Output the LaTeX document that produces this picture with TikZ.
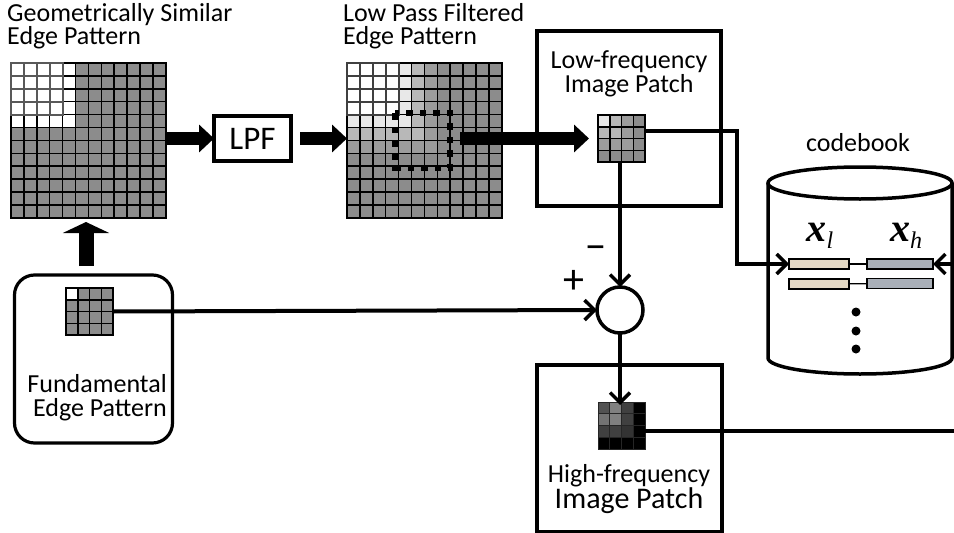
\documentclass[tikz,border=0pt]{standalone}
\usepackage{fontspec}
\setmainfont{Carlito}
\newfontfamily\codefont{Liberation Serif}
\usepackage{tikz}
\usetikzlibrary{arrows.meta}

\definecolor{lowbar}{HTML}{E4D8C4}
\definecolor{highbar}{HTML}{A9AFB8}

\tikzset{
    gridcell/.style={draw=black, line width=1.5pt},
    blockbox/.style={draw, line width=3.2pt, outer sep=0pt},
    label/.style={font=\fontsize{26}{24.5}\selectfont, align=center, inner sep=0pt},
    conn/.style={line width=4pt, -{Straight Barb[length=10pt,width=20pt,line width=3.5pt]}},
    wire/.style={line width=4pt},
    fatarrow/.style={line width=13pt, -{Triangle[length=15pt,width=27pt]}},
    codebar/.style={draw, line width=1.2pt, minimum height=10pt, inner sep=0pt, outer sep=0pt},
    codevar/.style={inner sep=0pt, font=\codefont\itshape\fontsize{24}{24}\selectfont},
}

% x, y of the corner, cells per side, cell size, gray levels
\newcommand{\edgegrid}[5]{
    \pgfmathtruncatemacro{\last}{#3-1}
    \foreach \r in {0,...,\last} {
        \foreach \c in {0,...,\last} {
            \pgfmathtruncatemacro{\lev}{{#5}[max(\r,\c)]}
            \draw[gridcell, fill=black!\lev] ({#1+\c*#4},{#2+\r*#4}) rectangle ++(#4,#4);
        }
    }
}
\newcommand{\whitecorner}[2]{
    \foreach \r in {0,...,3} {
        \foreach \c in {0,...,3} {
            \draw[draw=#2, line width=1.8pt] ({#1+\c*12.9},{63+\r*12.9}) rectangle ++(12.9,12.9);
        }
    }
}
\newcommand{\codevar}[1]{{\bfseries\fontsize{40}{40}\selectfont x}\raisebox{-7pt}{#1}}

\begin{document}
\begin{tikzpicture}[x=1pt,y=-1pt]
\useasboundingbox (0,0) rectangle (954,533);

% big grids
\edgegrid{11}{63}{12}{12.9}{0,0,0,0,0,45,45,45,45,45,45,45}
\whitecorner{11}{black!65}
\edgegrid{347}{63}{12}{12.9}{0,0,0,0,9,28,39,45,45,45,45,45}
\whitecorner{347}{black!75}
\node[minimum width=155pt, minimum height=155pt, inner sep=0pt, outer sep=0pt] (simgrid) at (88.5,140) {};
\node[minimum width=155pt, minimum height=155pt, inner sep=0pt, outer sep=0pt] (lowgrid) at (424.5,140) {};

\node[label, anchor=west, align=left, font=\fontsize{26}{23}\selectfont] (simtext) at (7,26) {Geometrically Similar\\Edge Pattern};
\node[label, anchor=west, align=left, font=\fontsize{26}{23}\selectfont] (lowtext) at (343,26) {Low Pass Filtered\\Edge Pattern};

\node[blockbox, minimum width=77pt, minimum height=45pt, font=\fontsize{33}{33}\selectfont] (lpf) at (252.5,138.5) {LPF};

% boxes
\node[blockbox, minimum width=184pt, minimum height=175pt] (lowbox) at (629,118.5) {};
\node[blockbox, minimum width=185pt, minimum height=167pt] (highbox) at (629.5,448.5) {};
\node[blockbox, rounded corners=20pt, minimum width=158pt, minimum height=168pt] (fundbox) at (93.5,359) {};

\node[label] (lowlabel) at (629,74) {Low-frequency\\Image Patch};
\node[label] (highlabel) at (629,489) {High-frequency\\{\fontsize{30}{24.5}\selectfont Image Patch}};
\node[label, anchor=east, align=right] (fundlabel) at (167,397.5) {Fundamental\\Edge Pattern};

% small patches
\edgegrid{598}{115}{4}{11.75}{9,28,39,45}
\edgegrid{66}{288}{4}{11.75}{0,45,45,45}
\foreach \r/\c/\lev in {0/0/68,0/1/50,0/2/75,1/0/55,1/1/50,1/2/75,2/0/75,2/1/75,2/2/80,
    0/3/100,1/3/100,2/3/100,3/0/100,3/1/100,3/2/100,3/3/100} {
    \draw[draw=black!85, line width=1pt, fill=black!\lev] ({598+\c*11.75},{402+\r*11.75}) rectangle ++(11.75,11.75);
}
\node[minimum size=47pt, inner sep=0pt, outer sep=0pt] (lowpatch) at (621.5,138.5) {};
\node[minimum size=47pt, inner sep=0pt, outer sep=0pt] (fundpatch) at (89.5,311.5) {};
\node[minimum size=47pt, inner sep=0pt, outer sep=0pt] (highpatch) at (621.5,425.5) {};

% dotted window
\draw[line width=6.5pt, dash pattern=on 6.5pt off 7pt] (395,113) rectangle (450,168);

% big arrows
\draw[fatarrow] (simgrid.east |- lpf) -- (lpf.west);
\coordinate (lowin) at (347,138.5);
\draw[fatarrow] (lpf.east) ++(9,0) -- (lowin);
\coordinate (winright) at (460,138.5);
\draw[fatarrow] (winright) -- ++(129,0);
\coordinate (upfoot) at (86,266);
\coordinate (uptip) at (86,222);
\draw[line width=15pt, -{Triangle[length=11pt,width=46pt]}] (upfoot) -- (uptip);

% summing node
\node[draw, circle, line width=3.5pt, minimum size=46pt, inner sep=0pt, outer sep=0pt] (sum) at (620,310) {};
\node[font=\fontsize{42}{42}\selectfont, inner sep=0pt] (plus) at (574,282) {+};
\node[font=\fontsize{42}{42}\selectfont, inner sep=0pt] (minus) at (596,253) {\textminus};

\draw[conn] (fundpatch.east) -- (sum.west);
\draw[conn] (lowpatch.south -| sum) -- (sum.north);
\coordinate (hightop) at (620,405);
\draw[conn] (sum.south) -- (hightop);

% codebook
\draw[line width=3.5pt, fill=white] (768,183) -- (768,358) arc[start angle=180, end angle=360, x radius=92, y radius=-16] -- (952,183);
\draw[line width=3.5pt] (860,183) ellipse[x radius=92, y radius=16];
\node[label] (codetext) at (858,143) {codebook};
\node[codevar] (xl) at (820,236) {\codevar{l}};
\node[codevar] (xh) at (906,236) {\codevar{h}};

\node[codebar, fill=lowbar, minimum width=60pt] (lowa) at (819,264) {};
\node[codebar, fill=highbar, minimum width=66pt] (higha) at (900,264) {};
\node[codebar, fill=lowbar, minimum width=60pt] (lowb) at (819,284) {};
\node[codebar, fill=highbar, minimum width=66pt] (highb) at (900,283.5) {};
\draw[line width=1.2pt] (lowa) -- (higha);
\draw[line width=1.2pt] (lowb) -- (highb);

\fill (856,312) circle (4.5);
\fill (856,331) circle (4.5);
\fill (856,349) circle (4.5);

% wires
\coordinate (rightin) at (954,264);
\coordinate (rightout) at (954,431);
\draw[conn] ([yshift=7.5pt]lowpatch.east) -| (737,264) -- (lowa.west);
\draw[conn] (rightin) -- (higha.east);
\draw[wire] ([yshift=-5.5pt]highpatch.east) -- (rightout);
\end{tikzpicture}
\end{document}
